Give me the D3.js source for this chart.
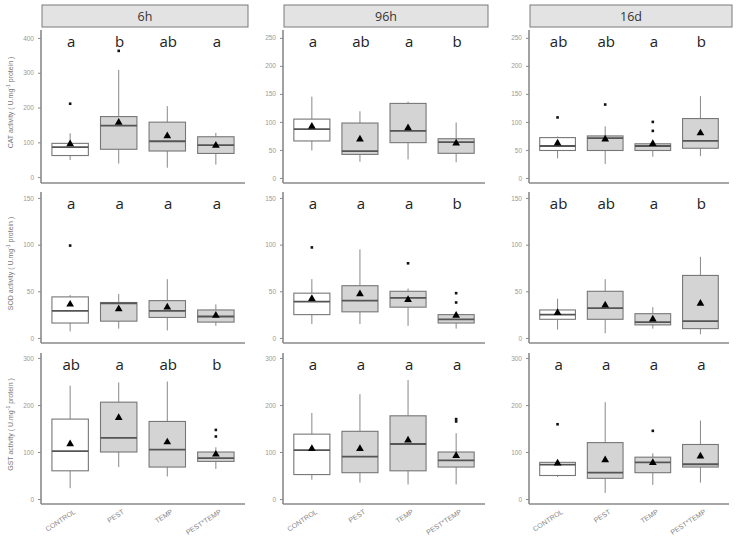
<!DOCTYPE html>
<html><head><meta charset="utf-8">
<script src="https://cdn.jsdelivr.net/npm/d3@7"></script>
<style>body{margin:0;background:#fff}svg{display:block}</style>
</head><body>
<script>
const groups = ["CONTROL","PEST","TEMP","PEST*TEMP"];
const times = ["6h","96h","16d"];
const metrics = ["CAT","SOD","GST"];
// each row: [whiskerLow, q1, median, q3, whiskerHigh, mean]
const cat6h  = [[49,62,86,97,126,95],[39,80,148,174,308,157],[27,75,103,158,204,118],[36,68,92,116,127,91]];
const cat96h = [[49,66,87,105,145,92],[29,42,48,98,119,69],[33,63,84,133,136,89],[28,44,64,70,99,62]];
const cat16d = [[35,49,57,72,74,62],[25,49,71,75,92,69],[38,49,57,61,64,61],[39,53,66,106,146,80]];
const sod6h  = [[7,16,29,44,46,36],[10,18,37,38,47,31],[8,22,29,40,63,33],[13,17,23,30,36,24]];
const sod96h = [[15,25,39,48,63,42],[15,28,40,56,95,47],[13,33,43,50,53,41],[10,16,20,25,28,24]];
const sod16d = [[9,20,25,30,42,27],[5,20,32,50,63,35],[10,14,17,26,33,20],[4,10,18,67,87,37]];
const gst6h  = [[23,60,102,170,241,117],[68,100,130,206,248,173],[48,68,105,165,250,121],[64,80,87,100,110,95]];
const gst96h = [[41,52,104,138,183,107],[35,56,90,144,223,107],[31,60,117,177,253,125],[31,68,82,100,140,92]];
const gst16d = [[47,50,73,78,78,76],[13,44,56,120,206,83],[30,56,78,89,97,77],[35,68,74,116,167,91]];
const outliers = [
  [[[211],[363],[],[]], [[],[],[],[]], [[108],[131],[100,84],[]]],
  [[[99],[],[],[]], [[97],[],[80],[38,48]], [[],[],[],[]]],
  [[[],[],[],[147,133]], [[],[],[],[170,165]], [[159],[],[145],[]]]
];
const letters = [
  [["a","b","ab","a"],["a","ab","a","b"],["ab","ab","a","b"]],
  [["a","a","a","a"],["a","a","a","b"],["ab","ab","a","b"]],
  [["ab","a","ab","b"],["a","a","a","a"],["a","a","a","a"]]
];
const yTicks = [
  [[0,100,200,300,400],[0,50,100,150,200,250],[0,50,100,150,200,250]],
  [[0,50,100,150],[0,50,100,150],[0,50,100,150]],
  [[0,100,200,300],[0,100,200,300],[0,100,200,300]]
];
const yDomains = [
  [[-17,423],[-9,264],[-9,264]],
  [[-5.4,156.4],[-5.4,156.4],[-5.4,156.4]],
  [[-10.6,310.6],[-10.6,310.6],[-10.6,310.6]]
];
const stats = [[cat6h,cat96h,cat16d],[sod6h,sod96h,sod16d],[gst6h,gst96h,gst16d]];
const yTitles = ["CAT activity ( U.mg","SOD activity ( U.mg","GST activity ( U.mg"];

const W=742,H=537;
const colL=[41,283,529], colR=[245,485,729];
const rowT=[30,192,353], rowB=[183,343,504];
const svg=d3.select("body").append("svg").attr("width",W).attr("height",H);
const axisCol="#8a8a8a";

// strips
times.forEach((t,c)=>{
  svg.append("rect").attr("x",colL[c]+1).attr("y",5).attr("width",colR[c]-colL[c]+2).attr("height",22)
    .attr("fill","#e3e3e3").attr("stroke","#7a7a7a").attr("stroke-width",1);
  svg.append("text").attr("x",(colL[c]+colR[c])/2+2).attr("y",20.5).attr("text-anchor","middle")
    .attr("font-family","Open Sans, sans-serif").attr("font-size",12.5).attr("fill","#333").text(t);
});

metrics.forEach((m,r)=>{
  // y title
  const cy=(rowT[r]+rowB[r])/2-4;
  const tt=svg.append("text").attr("transform",`translate(13,${cy}) rotate(-90)`).attr("text-anchor","middle")
    .attr("font-family","Liberation Sans, Arial, sans-serif").attr("font-size",7).attr("fill","#777");
  tt.append("tspan").text(yTitles[r]);
  tt.append("tspan").attr("dy",-3).attr("font-size",5).text("-1");
  tt.append("tspan").attr("dy",3).text(" protein )");

  times.forEach((t,c)=>{
    const x=d3.scalePoint().domain(groups).range([colL[c],colR[c]]).padding(0.6);
    const step=x.step(), bw=step*0.75;
    const y=d3.scaleLinear().domain(yDomains[r][c]).range([rowB[r],rowT[r]]);
    const g=svg.append("g");
    // y axis
    const ya=g.append("g").attr("transform",`translate(${colL[c]},0)`)
      .call(d3.axisLeft(y).tickValues(yTicks[r][c]).tickSize(3).tickPadding(4));
    ya.select(".domain").remove();
    ya.selectAll("line").attr("stroke",axisCol);
    ya.selectAll("text").attr("font-family","Liberation Sans, Arial, sans-serif").attr("font-size",6.5).attr("fill","#999");
    g.append("line").attr("x1",colL[c]).attr("x2",colL[c]).attr("y1",rowT[r]).attr("y2",rowB[r])
      .attr("stroke",axisCol).attr("stroke-width",1.6);
    g.append("line").attr("x1",colL[c]).attr("x2",colR[c]).attr("y1",rowB[r]).attr("y2",rowB[r])
      .attr("stroke",axisCol).attr("stroke-width",1.6);

    groups.forEach((grp,i)=>{
      const s=stats[r][c][i], cx=x(grp);
      const fill=i===0?"#ffffff":"#d4d4d4";
      // whiskers
      g.append("line").attr("x1",cx).attr("x2",cx).attr("y1",y(s[3])).attr("y2",y(s[4])).attr("stroke","#888").attr("stroke-width",1);
      g.append("line").attr("x1",cx).attr("x2",cx).attr("y1",y(s[1])).attr("y2",y(s[0])).attr("stroke","#888").attr("stroke-width",1);
      g.append("rect").attr("x",cx-bw/2).attr("y",y(s[3])).attr("width",bw).attr("height",Math.max(0.5,y(s[1])-y(s[3])))
        .attr("fill",fill).attr("stroke","#777").attr("stroke-width",1.1);
      g.append("line").attr("x1",cx-bw/2).attr("x2",cx+bw/2).attr("y1",y(s[2])).attr("y2",y(s[2]))
        .attr("stroke","#555").attr("stroke-width",1.8);
      outliers[r][c][i].forEach(v=>{
        g.append("rect").attr("x",cx-1.3).attr("y",y(v)-1.3).attr("width",2.6).attr("height",2.6).attr("fill","#111");
      });
      const my=y(s[5]);
      g.append("path").attr("d",d3.symbol(d3.symbolTriangle,26)()).attr("transform",`translate(${cx},${my})`).attr("fill","#000");
      g.append("text").attr("x",cx+1).attr("y",rowT[r]+17).attr("text-anchor","middle")
        .attr("font-family","Open Sans, sans-serif").attr("font-size",15).attr("fill","#222").text(letters[r][c][i]);
      if(r===2){
        g.append("text").attr("transform",`translate(${cx+6},${rowB[r]+9}) rotate(-33)`).attr("text-anchor","end")
          .attr("font-family","Liberation Sans, Arial, sans-serif").attr("font-size",7).attr("fill","#888").text(grp);
      }
    });
  });
});
</script>
</body></html>
